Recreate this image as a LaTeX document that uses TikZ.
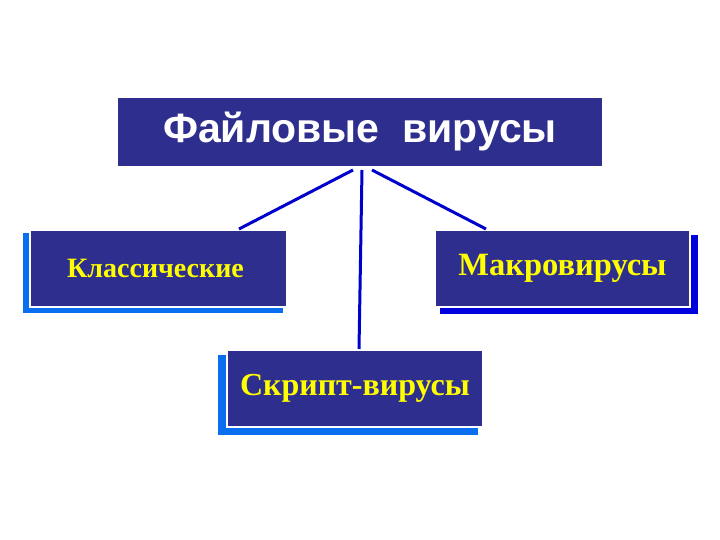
\documentclass[tikz,border=0pt]{standalone}
\usepackage{fontspec}
\setmainfont{Liberation Serif}
\newfontfamily\headfont{Liberation Sans}
\definecolor{boxblue}{HTML}{2E2E8E}
\definecolor{shadelight}{HTML}{0A6EF0}
\definecolor{shadedark}{HTML}{0000DC}
\definecolor{linkblue}{HTML}{0000CC}
\definecolor{txtyellow}{HTML}{FFFF00}
\tikzset{
  box/.style={fill=boxblue, draw=white, line width=1.5pt, inner sep=0pt, minimum height=77pt},
  headbox/.style={fill=boxblue, inner sep=0pt},
  link/.style={draw=linkblue, line width=3pt}
}
\begin{document}
\begin{tikzpicture}[x=1pt,y=-1pt]
\useasboundingbox[fill=white] (0,0) rectangle (720,540);
% head
\node[headbox, minimum width=484pt, minimum height=68pt] (head) at (360,132)
  {\headfont\fontsize{41}{41}\selectfont\bfseries\color{white}Файловые\ \ вирусы};
% shadows
\fill[shadelight] (23,233) rectangle (283,313);
\fill[shadedark] (440,235) rectangle (698,314);
\fill[shadelight] (218,355) rectangle (478,435);
% boxes
\node[box, minimum width=257pt] (cl) at (158.5,268.5)
  {\hspace*{-6pt}\fontsize{28}{28}\selectfont\bfseries\color{txtyellow}Классические};
\node[box, minimum width=255pt] (mac) at (562.5,268.5)
  {\fontsize{32.5}{32.5}\selectfont\bfseries\color{txtyellow}Макровирусы};
\node[box, minimum width=256pt] (scr) at (355,388.5)
  {\fontsize{32}{32}\selectfont\bfseries\color{txtyellow}\raisebox{-2pt}{Скрипт-вирусы}};
% connectors
\coordinate (h1) at (353,170);
\coordinate (h2) at (362,170);
\coordinate (h3) at (372,170);
\coordinate (c1) at (239,229);
\coordinate (m1) at (486,229);
\coordinate (s1) at (359,349);
\draw[link] (h1) -- (c1);
\draw[link] (h2) -- (s1);
\draw[link] (h3) -- (m1);
\end{tikzpicture}
\end{document}
